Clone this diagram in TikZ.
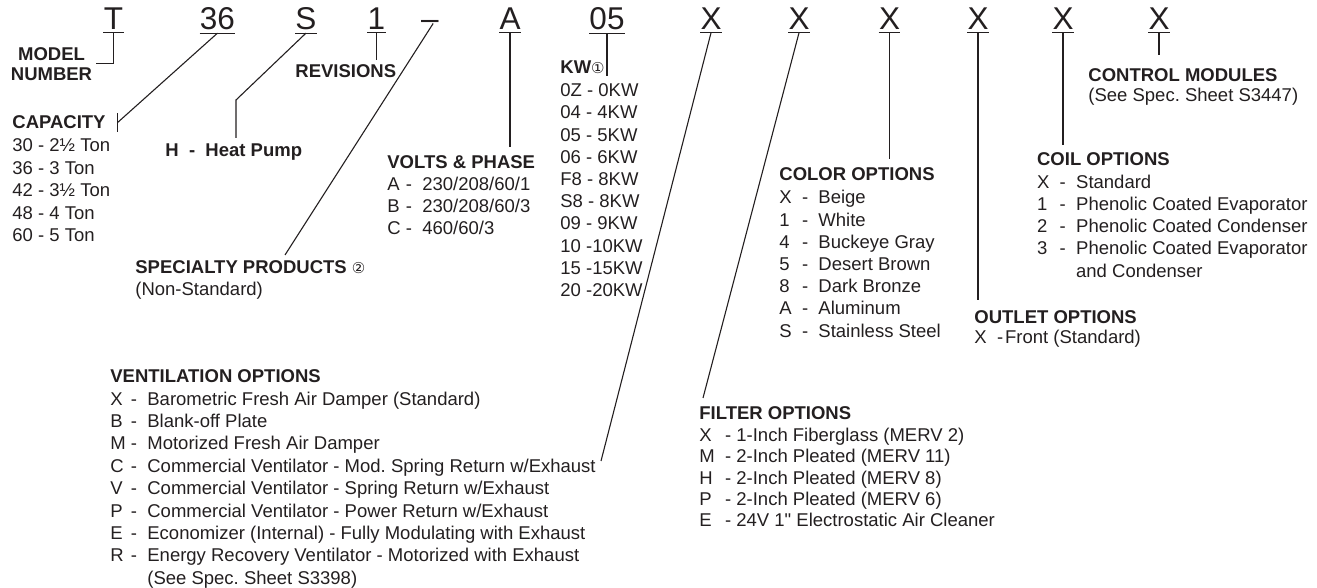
\documentclass[tikz,border=0pt]{standalone}
\usepackage{fontspec}
\setmainfont{Liberation Sans}[Ligatures=TeXOff]
\newfontfamily\symfont{DejaVu Sans}
\usepackage{tikz}
\usetikzlibrary{positioning, calc}
\definecolor{inkblack}{RGB}{35, 31, 32}
\newcommand{\notemark}[1]{{\symfont\mdseries\fontsize{7.5}{8}\selectfont #1}}
\newcommand{\nokey}[1]{\multicolumn{1}{@{}l@{\phantom{#1}}}{}}
\frenchspacing

\begin{document}
\begin{tikzpicture}[
        x=0.5pt, y=-0.5pt,
        every node/.style={text=inkblack, inner sep=0pt},
        code/.style={font=\fontsize{15.75}{18}\selectfont, anchor=base},
        head/.style={font=\bfseries\fontsize{9.25}{11.1}\selectfont, anchor=base west},
        items/.style={font=\fontsize{9.25}{11.1}\selectfont},
        under/.style={below=#1, anchor=base west},
        leader/.style={draw=inkblack, line width=0.55pt},
    ]
        \useasboundingbox (0,0) rectangle (1317,588);

        % model number string
        \foreach \n/\c/\x in {T/T/113.5, CAP/36/217.5, SYS/S/306, REV/1/376.5, VLT/A/510, KW/05/607,
                VNT/X/711, FLT/X/799, COL/X/889.5, OUT/X/978, COI/X/1063, CTL/X/1159} {
            \node[code] (\n) at (\x,30) {\c};
            \draw[leader] ([yshift=-1.2pt]\n.south west) -- ([yshift=-1.2pt]\n.south east);
        }
        \node[code] (SPC) at (430,30) {–};

        % labels
        \node[head, font=\bfseries\fontsize{9.25}{10}\selectfont, align=center, anchor=north] (MDL) at (51.5,47) {MODEL\\NUMBER};
        \node[head] (REVh) at (295,78) {REVISIONS};

        \node[head] (CAPh) at (12,129) {CAPACITY};
        \node[items, font=\fontsize{9.25}{11.25}\selectfont, under=11.35pt of CAPh.base west] (CAPl) {\begin{tabular}[t]{@{}l@{}}
            30 - 2½ Ton\\ 36 - 3 Ton\\ 42 - 3½ Ton\\ 48 - 4 Ton\\ 60 - 5 Ton\end{tabular}};

        \node[head] (HPh) at (165,156.7) {H\ \ -\ \ Heat Pump};

        \node[head] (SPCh) at (135,274) {SPECIALTY PRODUCTS \notemark{②}};
        \node[items, under=10.5pt of SPCh.base west] (SPCl) {(Non-Standard)};

        \node[head] (VLTh) at (387,168.3) {VOLTS \& PHASE};
        \node[items, font=\fontsize{9.25}{10.85}\selectfont, under=11.35pt of VLTh.base west] (VLTl) {\begin{tabular}[t]{@{}l@{\ -\ \ }l@{}}
            A & 230/208/60/1\\ B & 230/208/60/3\\ C & 460/60/3\end{tabular}};

        \node[head] (KWh) at (560,73.3) {KW\notemark{①}};
        \node[items, under=11.7pt of KWh.base west] (KWl) {\begin{tabular}[t]{@{}l@{}}
            0Z - 0KW\\ 04 - 4KW\\ 05 - 5KW\\ 06 - 6KW\\ F8 - 8KW\\ S8 - 8KW\\ 09 - 9KW\\ 10 -10KW\\ 15 -15KW\\ 20 -20KW\end{tabular}};

        \node[head] (COLh) at (779,181) {COLOR OPTIONS};
        \node[items, under=11.5pt of COLh.base west] (COLl) {\begin{tabular}[t]{@{}l@{\ \ -\ \ }l@{}}
            X & Beige\\ 1 & White\\ 4 & Buckeye Gray\\ 5 & Desert Brown\\ 8 & Dark Bronze\\ A & Aluminum\\ S & Stainless Steel\end{tabular}};

        \node[head] (COIh) at (1036.7,166) {COIL OPTIONS};
        \node[items, under=11.15pt of COIh.base west] (COIl) {\begin{tabular}[t]{@{}l@{\ \ -\ \ }l@{}}
            X & Standard\\ 1 & Phenolic Coated Evaporator\\ 2 & Phenolic Coated Condenser\\
            3 & Phenolic Coated Evaporator\\ \nokey{\ \ -\ \ } & and Condenser\end{tabular}};

        \node[head] (OUTh) at (974,323.5) {OUTLET OPTIONS};
        \node[items, under=10pt of OUTh.base west] (OUTl) {X\ \ -\hspace{1pt}Front (Standard)};

        \node[head] (CTLh) at (1088,81.7) {CONTROL MODULES};
        \node[items, under=10pt of CTLh.base west] (CTLl) {(See Spec. Sheet S3447)};

        \node[head] (VNTh) at (110,382.3) {VENTILATION OPTIONS};
        \node[items, font=\fontsize{9.25}{11.2}\selectfont, under=11.35pt of VNTh.base west] (VNTl) {\begin{tabular}[t]{@{}l@{\ -\ \ }l@{}}
            X & Barometric Fresh Air Damper (Standard)\\ B & Blank-off Plate\\ M & Motorized Fresh Air Damper\\
            C & Commercial Ventilator - Mod. Spring Return w/Exhaust\\ V & Commercial Ventilator - Spring Return w/Exhaust\\
            P & Commercial Ventilator - Power Return w/Exhaust\\ E & Economizer (Internal) - Fully Modulating with Exhaust\\
            R & Energy Recovery Ventilator - Motorized with Exhaust\\ \nokey{\ -\ \ } & (See Spec. Sheet S3398)\end{tabular}};

        \node[head] (FLTh) at (699,419.3) {FILTER OPTIONS};
        \node[items, font=\fontsize{9.25}{10.6}\selectfont, under=11.2pt of FLTh.base west] (FLTl) {\begin{tabular}[t]{@{}l@{\ \ -\ }l@{}}
            X & 1-Inch Fiberglass (MERV 2)\\ M & 2-Inch Pleated (MERV 11)\\ H & 2-Inch Pleated (MERV 8)\\
            P & 2-Inch Pleated (MERV 6)\\ E & 24V 1" Electrostatic Air Cleaner\end{tabular}};

        % leaders
        \coordinate[right=5.75pt of CAPh.east] (CAPtick);
        \coordinate (SYSbend) at (236,100);
        \coordinate (SYSend) at (236,138);
        \coordinate (SPCend) at (285,255);
        \coordinate (VNTend) at (601,461);

        \draw[leader] ([yshift=-1.2pt]T.south) |- ([xshift=2pt]MDL.east);
        \draw[leader] ([yshift=-1.2pt]CAP.south) -- (CAPtick);
        \draw[leader] ([yshift=4.75pt]CAPtick) -- ([yshift=-4.75pt]CAPtick);
        \draw[leader] ([yshift=-1.2pt]SYS.south) -- (SYSbend) -- (SYSend);
        \draw[leader] ([yshift=-1.2pt]REV.south) -- ($(REV.south |- REVh.north)+(0,-5)$);
        \draw[leader] ([xshift=-3pt,yshift=1pt]SPC.east) -- (SPCend);
        \draw[leader] ([yshift=-1.2pt]VLT.south) -- ($(VLT.south |- VLTh.north)+(0,-8)$);
        \draw[leader] ([yshift=-1.2pt]KW.south) -- ($(KW.south |- KWh.base)+(0,2.5)$);
        \draw[leader] ([yshift=-1.2pt]VNT.south) -- (VNTend);
        \draw[leader] ([yshift=-1.2pt]FLT.south) -- ($(FLTh.north west)+(4,-8)$);
        \draw[leader] ([yshift=-1.2pt]COL.south) -- ($(COL.south |- COLh.north)+(0,-9)$);
        \draw[leader] ([yshift=-1.2pt]OUT.south) -- ($(OUT.south |- OUTh.north)+(0,-10)$);
        \draw[leader] ([yshift=-1.2pt]COI.south) -- ($(COI.south |- COIh.north)+(0,-8)$);
        \draw[leader] ([yshift=-1.2pt]CTL.south) -- ($(CTL.south |- CTLh.north)+(0,-13)$);
    \end{tikzpicture}
\end{document}
